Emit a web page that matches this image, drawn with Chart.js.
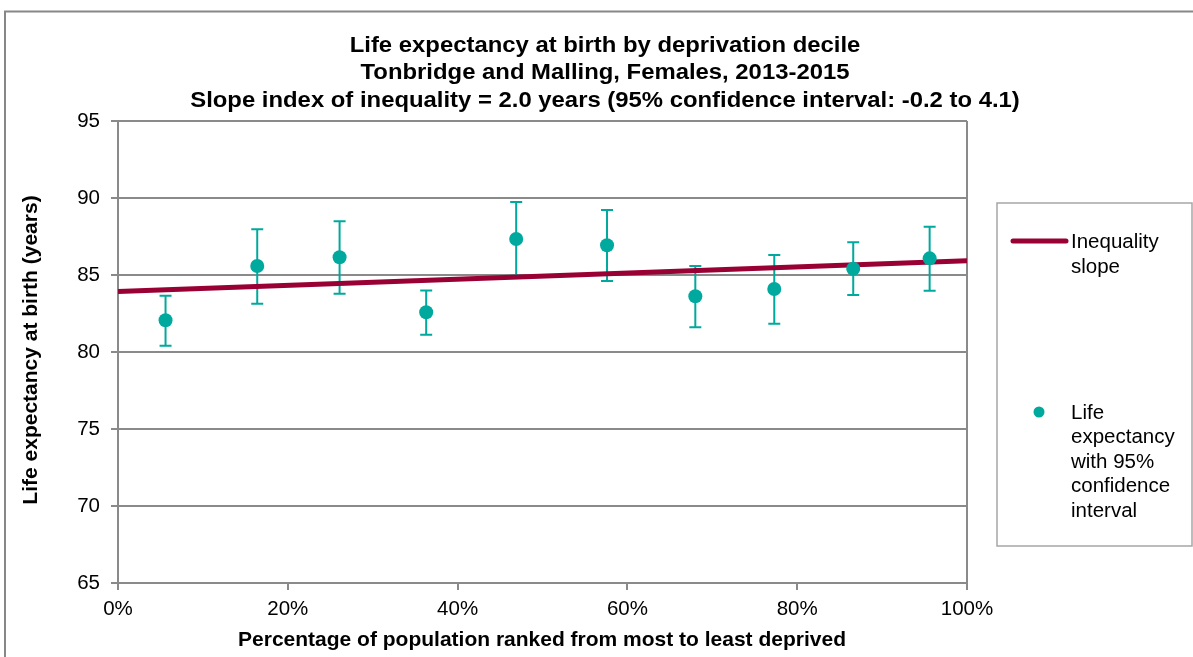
<!DOCTYPE html>
<html><head><meta charset="utf-8">
<script src="https://cdn.jsdelivr.net/npm/chart.js@4/dist/chart.umd.min.js"></script>
<style>html,body{margin:0;padding:0;background:#fff;}#wrap{width:1193px;height:657px;position:relative;}</style>
</head><body><div id="wrap"><canvas id="c" width="1193" height="657"></canvas></div>
<script>
const titleLines = ["Life expectancy at birth by deprivation decile","Tonbridge and Malling, Females, 2013-2015","Slope index of inequality = 2.0 years (95% confidence interval: -0.2 to 4.1)"];
const xAxisTitle = "Percentage of population ranked from most to least deprived";
const yAxisTitle = "Life expectancy at birth (years)";
const popPercent = [5.6, 16.4, 26.1, 36.3, 46.9, 57.6, 68.0, 77.3, 86.6, 95.6];
const lifeExp = [82.06, 85.58, 86.15, 82.58, 87.34, 86.93, 83.62, 84.09, 85.41, 86.08];
const lowerCI = [80.41, 83.14, 83.79, 81.12, 84.95, 84.61, 81.60, 81.84, 83.70, 83.98];
const upperCI = [83.66, 87.97, 88.49, 83.99, 89.74, 89.22, 85.58, 86.30, 87.12, 88.14];
const slopeX = [0, 100];
const slopeY = [83.93, 85.93];
const legendSlope = ["Inequality", "slope"];
const legendLE = ["Life", "expectancy", "with 95%", "confidence", "interval"];

const TEAL = '#00A99D', RED = '#990033', GRID = '#8a8a8a';
const FONT = '"Liberation Sans", Arial, sans-serif';

const errorBars = {
  id: 'errorBars',
  beforeDatasetsDraw(chart) {
    const {ctx, scales: {x, y}} = chart;
    ctx.save();
    ctx.strokeStyle = TEAL; ctx.lineWidth = 2;
    popPercent.forEach((p, i) => {
      const px = x.getPixelForValue(p), top = y.getPixelForValue(upperCI[i]), bot = y.getPixelForValue(lowerCI[i]);
      ctx.beginPath();
      ctx.moveTo(px, top); ctx.lineTo(px, bot);
      ctx.moveTo(px - 6, top); ctx.lineTo(px + 6, top);
      ctx.moveTo(px - 6, bot); ctx.lineTo(px + 6, bot);
      ctx.stroke();
    });
    ctx.restore();
  }
};

const decor = {
  id: 'decor',
  afterDraw(chart) {
    const ctx = chart.ctx;
    ctx.save();
    // outer frame
    ctx.strokeStyle = '#878787'; ctx.lineWidth = 2;
    ctx.beginPath(); ctx.moveTo(5, 660); ctx.lineTo(5, 11.5); ctx.lineTo(1200, 11.5); ctx.stroke();
    // titles
    ctx.fillStyle = '#000'; ctx.textAlign = 'center'; ctx.textBaseline = 'middle';
    ctx.font = 'bold 21.5px ' + FONT;
    titleLines.forEach((t, i) => {
      ctx.save(); ctx.translate(605, 46 + i * 27.5); ctx.scale(1.11, 1); ctx.fillText(t, 0, 0); ctx.restore();
    });
    ctx.font = 'bold 21px ' + FONT;
    ctx.fillText(xAxisTitle, 542, 640);
    ctx.save(); ctx.translate(31, 350); ctx.rotate(-Math.PI / 2); ctx.fillText(yAxisTitle, 0, 0); ctx.restore();
    // legend
    ctx.strokeStyle = '#a6a6a6'; ctx.lineWidth = 1.5;
    ctx.strokeRect(997, 203, 195, 343);
    ctx.strokeStyle = RED; ctx.lineWidth = 5; ctx.lineCap = 'round';
    ctx.beginPath(); ctx.moveTo(1013, 241); ctx.lineTo(1066, 241); ctx.stroke();
    ctx.fillStyle = TEAL; ctx.beginPath(); ctx.arc(1039, 412, 5.5, 0, Math.PI * 2); ctx.fill();
    ctx.fillStyle = '#000'; ctx.textAlign = 'left'; ctx.font = '20.5px ' + FONT;
    legendSlope.forEach((t, i) => ctx.fillText(t, 1071, 242 + i * 25));
    legendLE.forEach((t, i) => ctx.fillText(t, 1071, 413 + i * 24.5));
    ctx.restore();
  }
};

new Chart(document.getElementById('c'), {
  data: {
    datasets: [
      { type: 'scatter', label: 'Life expectancy with 95% confidence interval', order: 0,
        data: popPercent.map((p, i) => ({x: p, y: lifeExp[i]})),
        backgroundColor: TEAL, borderColor: TEAL, pointRadius: 7, pointHoverRadius: 7, borderWidth: 0 },
      { type: 'line', label: 'Inequality slope', order: 1,
        data: slopeX.map((p, i) => ({x: p, y: slopeY[i]})),
        borderColor: RED, borderWidth: 5, pointRadius: 0, fill: false, tension: 0 }
    ]
  },
  options: {
    responsive: false, animation: false,
    layout: { padding: { left: 0, top: 121, right: 226, bottom: 0 } },
    plugins: { legend: { display: false }, title: { display: false }, tooltip: { enabled: false } },
    scales: {
      x: { type: 'linear', min: 0, max: 100,
        ticks: { stepSize: 20, callback: v => v + '%', color: '#000', font: { size: 20.5, family: FONT }, padding: 7, maxRotation: 0 },
        grid: { color: c => (c.tick && c.tick.value === 100) ? GRID : 'rgba(0,0,0,0)', tickColor: GRID, lineWidth: 2, tickLength: 7 },
        border: { color: GRID, width: 2 },
        afterFit: s => { s.height = 74; } },
      y: { min: 65, max: 95,
        ticks: { stepSize: 5, color: '#000', font: { size: 20.5, family: FONT }, padding: 11 },
        grid: { color: GRID, tickColor: GRID, lineWidth: 2, tickLength: 7 },
        border: { color: GRID, width: 2 },
        afterFit: s => { s.width = 118; } }
    }
  },
  plugins: [errorBars, decor]
});
</script></body></html>
